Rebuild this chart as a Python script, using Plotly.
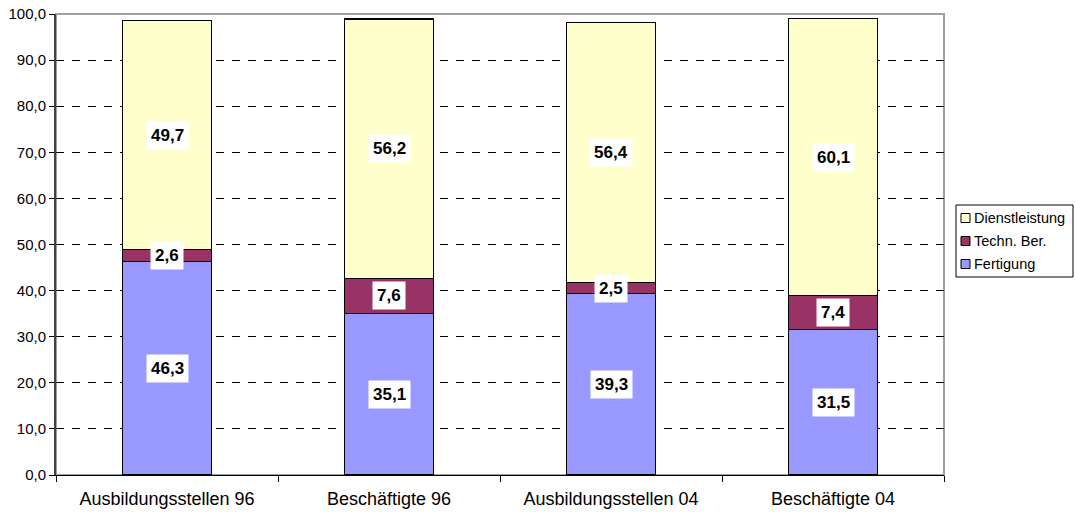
import plotly.graph_objects as go

categories = ["Ausbildungsstellen 96", "Beschäftigte 96", "Ausbildungsstellen 04", "Beschäftigte 04"]
fertigung = [46.3, 35.1, 39.3, 31.5]
techn = [2.6, 7.6, 2.5, 7.4]
dienst = [49.7, 56.2, 56.4, 60.1]
series_names = ["Fertigung", "Techn. Ber.", "Dienstleistung"]
series_colors = ["#9999FF", "#993366", "#FFFFCC"]
y_ticks = [0, 10, 20, 30, 40, 50, 60, 70, 80, 90, 100]

FONT = "Liberation Sans, Arial, sans-serif"
W, H = 1075, 512
L, R, T, B = 56, 944, 14, 475  # plot area in px


def px_x(p):
    return (p - L) / (R - L)


def px_y(p):
    return (B - p) / (B - T)


fig = go.Figure()
series = [fertigung, techn, dienst]
for name, vals, col in zip(series_names, series, series_colors):
    fig.add_trace(go.Bar(x=categories, y=vals, name=name, showlegend=False,
                         marker=dict(color=col, line=dict(color="black", width=1.3))))

# data labels at segment centres
annotations = []
base = [0.0] * len(categories)
for vals in series:
    for i, v in enumerate(vals):
        annotations.append(dict(x=categories[i], y=base[i] + v / 2, xref="x", yref="y",
                                text="<b>" + f"{v:.1f}".replace(".", ",") + "</b>",
                                showarrow=False, bgcolor="white", borderpad=4,
                                font=dict(family=FONT, size=17, color="black")))
        base[i] += v

shapes = [
    # gray plot-area frame
    dict(type="rect", xref="paper", yref="paper", x0=0, x1=1, y0=0, y1=1,
         line=dict(color="#A0A0A0", width=2), layer="below"),
    # legend box
    dict(type="rect", xref="paper", yref="paper", x0=px_x(956), x1=px_x(1073),
         y0=px_y(277), y1=px_y(205), line=dict(color="black", width=1),
         fillcolor="white"),
]
# legend entries (top to bottom: reversed stacking order)
row_y = [218, 241, 264]
for k, (name, col) in enumerate(zip(series_names[::-1], series_colors[::-1])):
    yc = row_y[k]
    shapes.append(dict(type="rect", xref="paper", yref="paper",
                       x0=px_x(961), x1=px_x(970), y0=px_y(yc + 4.5), y1=px_y(yc - 4.5),
                       fillcolor=col, line=dict(color="black", width=1)))
    annotations.append(dict(x=px_x(972), y=px_y(yc), xref="paper", yref="paper",
                            xanchor="left", yanchor="middle", text=name, showarrow=False,
                            font=dict(family=FONT, size=14.5, color="black")))

fig.update_layout(
    barmode="stack", bargap=0.6,
    width=W, height=H,
    margin=dict(l=L, r=W - R, t=T, b=H - B, pad=0),
    paper_bgcolor="white", plot_bgcolor="white",
    separators=",.",
    font=dict(family=FONT, size=15, color="black"),
    annotations=annotations,
    shapes=shapes,
    showlegend=False,
)
fig.update_xaxes(showline=True, linecolor="black", linewidth=1.3, ticks="outside",
                 tickson="boundaries", ticklen=6, tickcolor="black",
                 ticklabelstandoff=7, showgrid=False, automargin=False,
                 tickfont=dict(family=FONT, size=18, color="black"))
fig.update_yaxes(range=[0, 100], tickvals=y_ticks, tickformat=".1f",
                 showline=True, linecolor="#404040", linewidth=2,
                 ticks="outside", ticklen=5, tickcolor="black", automargin=False,
                 showgrid=True, gridcolor="black", gridwidth=1, griddash="8px,8px",
                 zeroline=False, tickfont=dict(family=FONT, size=15, color="black"))

fig.write_html("out.html", config={"displayModeBar": False},
               post_script="document.body.style.margin='0';document.body.style.overflow='hidden';")
